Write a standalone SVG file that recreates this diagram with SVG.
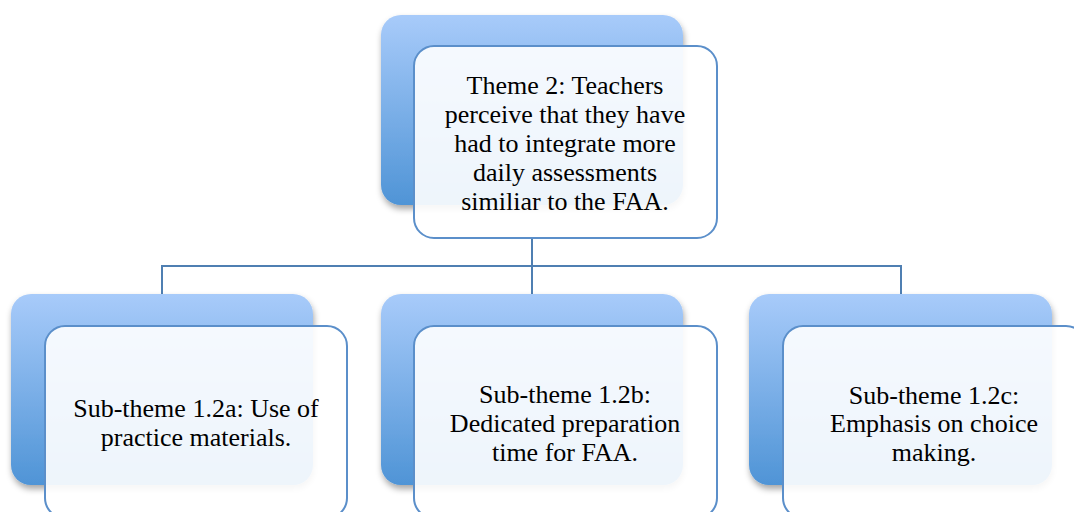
<svg xmlns="http://www.w3.org/2000/svg" width="1074" height="512" viewBox="0 0 1074 512">
<defs>
<linearGradient id="bg" x1="0" y1="0" x2="0" y2="1">
<stop offset="0" stop-color="#a8cbfa"/>
<stop offset="1" stop-color="#4f94d6"/>
</linearGradient>
<filter id="sh" x="-10%" y="-10%" width="120%" height="125%">
<feDropShadow dx="1" dy="4" stdDeviation="3" flood-color="#000" flood-opacity="0.35"/>
</filter>
</defs>
<style>
.back{fill:url(#bg);filter:url(#sh);}
.front{fill:#ffffff;fill-opacity:0.9;stroke:#5b8fca;stroke-width:2;}
.conn{fill:none;stroke:#4f7fb2;stroke-width:2;}
text{font-family:"Liberation Serif","Times New Roman",serif;font-size:26px;fill:#000;text-anchor:middle;}
</style>
<rect width="1074" height="512" fill="#ffffff"/>
<g id="connectors">
<path class="conn" d="M532,238 V266 M162,294 V266 H901 V294 M532,266 V294"/>
</g>
<g id="theme2">
<rect class="back" x="381" y="15" width="302" height="190" rx="20"/>
<rect class="front" x="414" y="46" width="303" height="192" rx="20"/>
<text x="565" y="94">Theme 2: Teachers</text>
<text x="565" y="123">perceive that they have</text>
<text x="565" y="152">had to integrate more</text>
<text x="565" y="181">daily assessments</text>
<text x="565" y="210">similiar to the FAA.</text>
</g>
<g id="sub12a">
<rect class="back" x="11" y="294" width="302" height="191" rx="20"/>
<rect class="front" x="45" y="326" width="302" height="192" rx="20"/>
<text x="196" y="417">Sub-theme 1.2a: Use of</text>
<text x="196" y="446">practice materials.</text>
</g>
<g id="sub12b">
<rect class="back" x="381" y="294" width="302" height="191" rx="20"/>
<rect class="front" x="414" y="326" width="303" height="192" rx="20"/>
<text x="565" y="403">Sub-theme 1.2b:</text>
<text x="565" y="432">Dedicated preparation</text>
<text x="565" y="461">time for FAA.</text>
</g>
<g id="sub12c">
<rect class="back" x="749" y="294" width="303" height="191" rx="20"/>
<rect class="front" x="783" y="326" width="303" height="192" rx="20"/>
<text x="934" y="404">Sub-theme 1.2c:</text>
<text x="934" y="432">Emphasis on choice</text>
<text x="934" y="461">making.</text>
</g>
</svg>
